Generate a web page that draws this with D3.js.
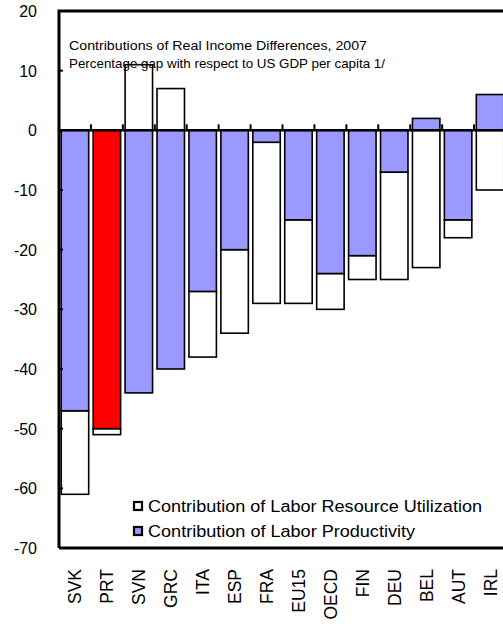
<!DOCTYPE html>
<html><head><meta charset="utf-8">
<script src="https://cdn.jsdelivr.net/npm/d3@7"></script>
<style>body{margin:0;background:#fff}text{font-family:"Liberation Sans",Arial,sans-serif}</style>
</head><body><svg id="c" width="503" height="630"></svg>
<script>
const categories=["SVK","PRT","SVN","GRC","ITA","ESP","FRA","EU15","OECD","FIN","DEU","BEL","AUT","IRL"];
const productivity=[-47,-50,-44,-40,-27,-20,-2,-15,-24,-21,-7,2,-15,6];
const utilization=[-14,-1,11,7,-11,-14,-27,-14,-6,-4,-18,-23,-3,-10];
const yTicks=[20,10,0,-10,-20,-30,-40,-50,-60,-70];
const svg=d3.select("#c");
const L=59,R=506,T=11,B=548;
const y=d3.scaleLinear().domain([-70,20]).range([B,T]);
const x=d3.scaleBand().domain(categories).range([L,R]).paddingInner(0.14).paddingOuter(0.07);
const step=x.step();
categories.forEach((c,i)=>{
  const p=productivity[i],u=utilization[i];
  const base=(Math.sign(u)===Math.sign(p))?p:0;
  svg.append("rect").attr("x",x(c)).attr("width",x.bandwidth())
    .attr("y",y(Math.max(base,base+u))).attr("height",Math.abs(y(base)-y(base+u)))
    .attr("fill","#fff").attr("stroke","#000").attr("stroke-width",1.6);
  svg.append("rect").attr("x",x(c)).attr("width",x.bandwidth())
    .attr("y",y(Math.max(0,p))).attr("height",Math.abs(y(0)-y(p)))
    .attr("fill",c==="PRT"?"#ff0000":"#9999ff").attr("stroke","#000").attr("stroke-width",1.6);
});
svg.append("path").attr("d",`M${L},${B}V${T}H505M${L},${B}H505`).attr("fill","none").attr("stroke","#000").attr("stroke-width",3);
svg.append("line").attr("x1",L).attr("x2",505).attr("y1",y(0)).attr("y2",y(0)).attr("stroke","#000").attr("stroke-width",2.5);
categories.forEach((c,i)=>{ if(i===0)return; const xx=x(c)-step*x.paddingInner()/2;
  svg.append("line").attr("x1",xx).attr("x2",xx).attr("y1",y(0)).attr("y2",y(0)-6).attr("stroke","#000").attr("stroke-width",2);});
yTicks.forEach(t=>{
  svg.append("line").attr("x1",L).attr("x2",L+4).attr("y1",y(t)).attr("y2",y(t)).attr("stroke","#000").attr("stroke-width",2);
  svg.append("text").attr("x",37).attr("y",y(t)+6).attr("text-anchor","end").attr("font-size",16).text(t);
});
categories.forEach(c=>{
  const cx=x(c)+x.bandwidth()/2;
  svg.append("text").attr("transform",`translate(${cx+6.5},569) rotate(-90)`).attr("text-anchor","end").attr("font-size",17.5).text(c);
});
svg.append("text").attr("x",69).attr("y",50).attr("font-size",13).attr("textLength",298).attr("lengthAdjust","spacingAndGlyphs").text("Contributions of Real Income Differences, 2007");
svg.append("text").attr("x",69).attr("y",68).attr("font-size",13).attr("textLength",316).attr("lengthAdjust","spacingAndGlyphs").text("Percentage gap  with respect to US GDP per capita 1/");
const leg=[["Contribution of Labor Resource Utilization","#fff",334],["Contribution of Labor Productivity","#9999ff",267]];
leg.forEach((d,i)=>{
  const ly=506+i*25;
  svg.append("rect").attr("x",134).attr("y",ly-4).attr("width",8).attr("height",8).attr("fill",d[1]).attr("stroke","#000").attr("stroke-width",2.2);
  svg.append("text").attr("x",148).attr("y",ly+6).attr("font-size",16).attr("textLength",d[2]).attr("lengthAdjust","spacingAndGlyphs").text(d[0]);
});
</script></body></html>
